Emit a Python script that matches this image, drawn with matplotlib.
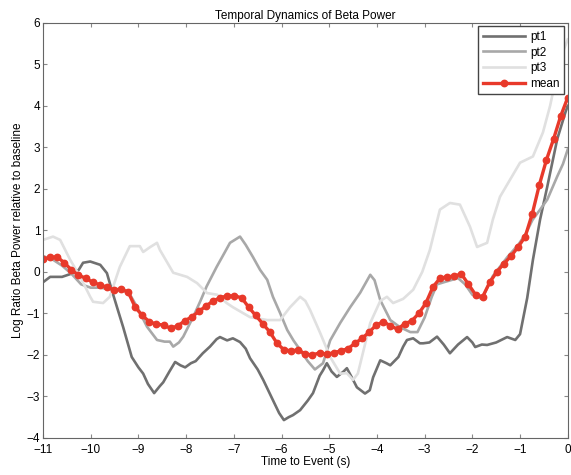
import numpy as np
import matplotlib
matplotlib.use("Agg")
import matplotlib.pyplot as plt

plt.rcParams['font.family'] = ['Liberation Sans', 'DejaVu Sans']

# values (time in s, log ratio)
pt1_t = [-11, -10.85, -10.6, -10.37, -10.25, -10.16, -10.01, -9.8, -9.66, -9.56, -9.43, -9.32,
         -9.14, -9.0, -8.9, -8.8, -8.67, -8.55, -8.48, -8.35, -8.23, -8.12, -8.02, -7.9, -7.8,
         -7.65, -7.5, -7.36, -7.29, -7.14, -7.02, -6.87, -6.75, -6.66, -6.5, -6.38, -6.18, -6.05,
         -5.95, -5.85, -5.76, -5.61, -5.45, -5.34, -5.2, -5.13, -5.05, -4.95, -4.84, -4.7, -4.63,
         -4.5, -4.42, -4.25, -4.15, -4.08, -3.93, -3.8, -3.72, -3.55, -3.45, -3.37, -3.24, -3.1,
         -3.03, -2.9, -2.74, -2.6, -2.47, -2.3, -2.11, -2.0, -1.94, -1.8, -1.69, -1.5, -1.27,
         -1.1, -1.0, -0.85, -0.73, -0.58, -0.43, -0.22, -0.05, 0]
pt1_v = [-0.25, -0.12, -0.12, -0.03, 0.05, 0.22, 0.25, 0.17, -0.03, -0.43, -0.92, -1.33,
         -2.05, -2.3, -2.45, -2.7, -2.92, -2.75, -2.66, -2.4, -2.17, -2.25, -2.3, -2.2, -2.15,
         -1.96, -1.8, -1.62, -1.57, -1.65, -1.6, -1.69, -1.85, -2.08, -2.35, -2.61, -3.09, -3.4,
         -3.57, -3.5, -3.45, -3.33, -3.1, -2.92, -2.5, -2.37, -2.2, -2.4, -2.53, -2.4, -2.32,
         -2.6, -2.78, -2.93, -2.85, -2.54, -2.13, -2.2, -2.25, -2.05, -1.8, -1.64, -1.6, -1.72,
         -1.72, -1.7, -1.56, -1.75, -1.96, -1.75, -1.57, -1.7, -1.81, -1.75, -1.76, -1.7, -1.57,
         -1.64, -1.5, -0.63, 0.29, 1.26, 2.05, 3.2, 3.84, 4.0]

pt2_t = [-11, -10.8, -10.6, -10.4, -10.2, -10.0, -9.8, -9.6, -9.4, -9.2, -9.03, -8.82, -8.61,
         -8.45, -8.34, -8.27, -8.15, -8.06, -7.85, -7.7, -7.57, -7.36, -7.2, -7.08, -6.87, -6.75,
         -6.6, -6.45, -6.3, -6.18, -6.03, -5.88, -5.75, -5.61, -5.45, -5.3, -5.13, -4.98, -4.77,
         -4.56, -4.35, -4.14, -4.05, -3.93, -3.72, -3.52, -3.3, -3.15, -3.0, -2.85, -2.74, -2.6,
         -2.3, -2.15, -2.0, -1.8, -1.57, -1.27, -1.04, -0.89, -0.74, -0.58, -0.43, -0.22, -0.1, 0]
pt2_v = [0.38, 0.3, 0.15, -0.05, -0.3, -0.38, -0.38, -0.42, -0.42, -0.5, -0.84, -1.32, -1.64,
         -1.68, -1.68, -1.8, -1.7, -1.56, -1.08, -0.7, -0.35, 0.12, 0.45, 0.7, 0.85, 0.65,
         0.36, 0.05, -0.19, -0.6, -0.99, -1.4, -1.65, -1.88, -2.15, -2.35, -2.2, -1.65, -1.23,
         -0.85, -0.5, -0.07, -0.2, -0.68, -1.16, -1.33, -1.45, -1.45, -1.1, -0.6, -0.3, -0.25,
         -0.15, -0.3, -0.55, -0.65, -0.1, 0.35, 0.65, 0.9, 1.25, 1.5, 1.74, 2.3, 2.6, 2.95]

pt3_t = [-11.0, -10.79, -10.64, -10.43, -10.22, -10.01, -9.95, -9.74, -9.6, -9.39, -9.18, -8.97,
         -8.9, -8.75, -8.61, -8.55, -8.27, -7.98, -7.77, -7.56, -7.35, -7.15, -7.02, -6.66, -6.3,
         -6.03, -5.82, -5.61, -5.5, -5.4, -5.19, -4.98, -4.77, -4.63, -4.5, -4.4, -4.14, -3.93,
         -3.79, -3.66, -3.45, -3.24, -3.05, -2.89, -2.68, -2.47, -2.26, -2.05, -1.9, -1.69,
         -1.57, -1.42, -1.21, -1.0, -0.73, -0.52, -0.37, -0.24, -0.1, 0]
pt3_v = [0.77, 0.85, 0.77, 0.29, -0.12, -0.6, -0.72, -0.75, -0.6, 0.12, 0.62, 0.62,
         0.48, 0.6, 0.7, 0.53, -0.02, -0.12, -0.27, -0.51, -0.55, -0.75, -0.85, -1.09, -1.16,
         -1.16, -0.85, -0.6, -0.7, -0.92, -1.47, -2.05, -2.45, -2.44, -2.6, -2.45, -1.23, -0.7,
         -0.6, -0.75, -0.65, -0.43, 0.0, 0.53, 1.5, 1.66, 1.62, 1.09, 0.6, 0.7,
         1.26, 1.81, 2.22, 2.63, 2.78, 3.36, 4.0, 4.7, 5.3, 5.6]

mean_t = np.linspace(-11, 0, 75)
mean_v = [0.30, 0.35, 0.36, 0.22, 0.05, -0.08, -0.15, -0.25, -0.31, -0.37,
          -0.43, -0.42, -0.48, -0.85, -1.05, -1.2, -1.26, -1.28, -1.36, -1.3,
          -1.18, -1.08, -0.95, -0.82, -0.7, -0.62, -0.58, -0.58, -0.62, -0.85,
          -1.05, -1.25, -1.45, -1.72, -1.88, -1.9, -1.88, -1.98, -2.0, -1.95,
          -1.98, -1.95, -1.9, -1.85, -1.72, -1.6, -1.45, -1.28, -1.2, -1.3,
          -1.38, -1.25, -1.18, -1.0, -0.75, -0.36, -0.15, -0.12, -0.1, -0.05,
          -0.3, -0.55, -0.6, -0.25, 0.0, 0.2, 0.38, 0.6, 0.85, 1.4,
          2.1, 2.7, 3.2, 3.75, 4.2]

fig = plt.figure(figsize=(5.71, 4.75), dpi=100)
ax = fig.add_axes([0.0753, 0.078, 0.919, 0.874])

ax.plot(pt1_t, pt1_v, color='#707070', linewidth=1.9, label='pt1')
ax.plot(pt2_t, pt2_v, color='#a8a8a8', linewidth=1.9, label='pt2')
ax.plot(pt3_t, pt3_v, color='#e0e0e0', linewidth=1.9, label='pt3')
ax.plot(mean_t, mean_v, color='#e8392a', linewidth=2.4, marker='o', markersize=4.6,
        markeredgecolor='#e8392a', label='mean')

ax.set_xlim(-11, 0)
ax.set_ylim(-4, 6)
ax.set_xticks(np.arange(-11, 1, 1))
ax.set_yticks(np.arange(-4, 7, 1))
ax.set_xticklabels(['\u2212%d' % -v if v < 0 else '0' for v in range(-11, 1)])
ax.set_yticklabels(['\u2212%d' % -v if v < 0 else '%d' % v for v in range(-4, 7)])
ax.tick_params(direction='in', top=True, right=True, labelsize=8.5, length=3,
               color='#888888')
ax.tick_params(axis='x', pad=4)
ax.tick_params(axis='y', pad=2)
for s in ax.spines.values():
    s.set_color('#666666')

ax.set_title('Temporal Dynamics of Beta Power', fontsize=8.5, pad=3)
ax.set_xlabel('Time to Event (s)', fontsize=8.5, labelpad=0)
ax.set_ylabel('Log Ratio Beta Power relative to baseline', fontsize=8.5, labelpad=2)

leg = ax.legend(loc='upper right', fontsize=8.5, handlelength=3.6, fancybox=False,
                framealpha=1, borderaxespad=0.3, labelspacing=0.3, handletextpad=0.4,
                borderpad=0.4)
leg.get_frame().set_edgecolor('#444444')

fig.savefig('out.png', dpi=100)
